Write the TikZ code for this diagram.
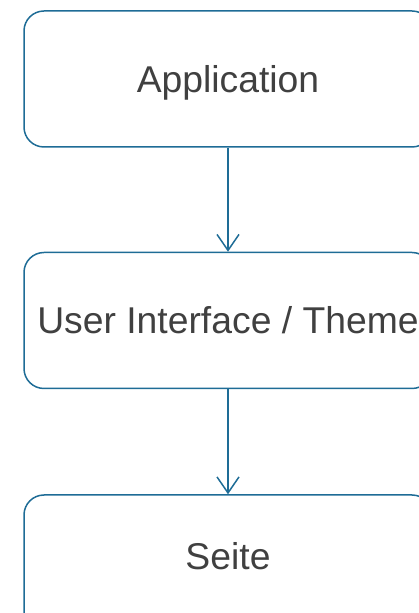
\documentclass[tikz,border=0pt]{standalone}
\usepackage{fontspec}
\setmainfont{Liberation Sans}
\usetikzlibrary{arrows.meta}
\definecolor{edgeblue}{RGB}{30,108,150}
\definecolor{textgray}{RGB}{64,64,64}
\tikzset{
  boxnode/.style={draw=edgeblue, line width=1.5pt, rounded corners=20pt,
    minimum width=408pt, minimum height=136pt, inner sep=0pt,
    text height=26.5pt, text depth=0pt,
    text=textgray, font=\fontsize{37.3}{44}\selectfont},
  flowarrow/.style={draw=edgeblue, line width=1.5pt,
    -{Straight Barb[length=16pt,width=22pt,line width=1.5pt]}}
}
\begin{document}
\begin{tikzpicture}[x=1pt,y=1pt]
\useasboundingbox (0,0) rectangle (419,613);
\clip (0,0) rectangle (419,613);
\node[boxnode] (app) at (228,534) {Application};
\node[boxnode] (ui) at (228,292.5) {User Interface / Theme};
\node[boxnode, text depth=13pt] (seite) at (228,50) {Seite};
\draw[flowarrow] (app.south) -- (ui.north);
\draw[flowarrow] (ui.south) -- (seite.north);
\end{tikzpicture}
\end{document}
